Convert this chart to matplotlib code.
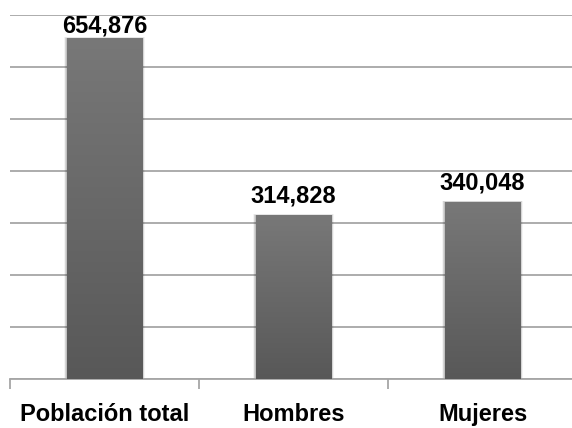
import matplotlib
matplotlib.use("Agg")
import matplotlib.pyplot as plt
import numpy as np
from matplotlib.colors import LinearSegmentedColormap

categories = ["Población total", "Hombres", "Mujeres"]
values = [654876, 314828, 340048]
y_max = 700000
y_step = 100000

plt.rcParams['font.family'] = ['Liberation Sans Narrow', 'Liberation Sans', 'DejaVu Sans']

fig = plt.figure(figsize=(5.72, 4.28), dpi=100)
ax = fig.add_axes([10 / 572, 49 / 428, 567 / 572, 364 / 428])

x = np.arange(len(categories))
width = 0.40

ax.set_xlim(-0.5, len(categories) - 0.5)
ax.set_ylim(0, y_max)

# horizontal gridlines
ax.set_yticks(np.arange(0, y_max + 1, y_step))
ax.yaxis.grid(True, color="#a6a6a6", linewidth=1.3)
ax.set_axisbelow(True)
ax.tick_params(axis="y", length=0, labelleft=False)

for s in ["left", "right", "top"]:
    ax.spines[s].set_visible(False)
ax.spines["bottom"].set_color("#a6a6a6")
ax.spines["bottom"].set_linewidth(1.3)

# soft shadow around the bars
for i, a in enumerate([0.05, 0.07, 0.09, 0.12]):
    grow = 0.030 - i * 0.007
    ax.bar(x, [v + grow * 90000 for v in values], width=width + grow,
           color="#303030", alpha=a, linewidth=0, zorder=2)

bars = ax.bar(x, values, width=width, color="none", linewidth=0, zorder=3)

# vertical gradient fill inside each bar
cmap = LinearSegmentedColormap.from_list("g", ["#585858", "#787878"])
grad = np.linspace(0, 1, 256).reshape(-1, 1)
label_ceiling = y_max * 0.953  # keep value labels inside the plot area
for b in bars:
    im = ax.imshow(grad, cmap=cmap, origin="lower", aspect="auto",
                   extent=(b.get_x(), b.get_x() + b.get_width(), 0, b.get_height()),
                   zorder=3)
    im.set_clip_path(b)
    ty = min(b.get_height() + 24000, label_ceiling)
    ax.text(b.get_x() + b.get_width() / 2, ty,
            f"{b.get_height():,.0f}", ha="center", va="baseline",
            fontsize=17, fontweight="bold", color="black", zorder=4)

ax.set_xlim(-0.5, len(categories) - 0.5)
ax.set_ylim(0, y_max)

# category labels, with tick marks on the category boundaries
ax.set_xticks(x)
ax.set_xticklabels(categories, fontsize=17, fontweight="bold")
ax.tick_params(axis="x", which="major", length=0, pad=17)
ax.set_xticks(np.arange(-0.5, len(categories), 1.0), minor=True)
ax.tick_params(axis="x", which="minor", length=7, width=1.3, color="#a6a6a6")

fig.savefig("out.png", dpi=100, facecolor="white")
